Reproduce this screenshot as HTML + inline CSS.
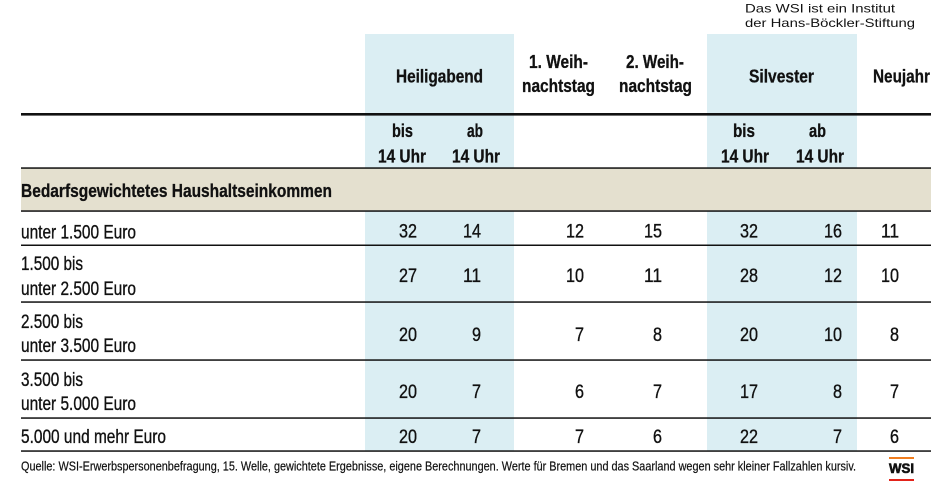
<!DOCTYPE html>
<html><head><meta charset="utf-8"><style>
html,body{margin:0;padding:0;background:#fff;}
svg{display:block;}
text{font-family:"Liberation Sans",Arial,sans-serif;fill:#111;}
.b{font-weight:bold;}
.s{stroke:#111;stroke-width:0.35;}
.sb{stroke:#111;stroke-width:0.3;}
</style></head><body>
<svg width="931" height="484" viewBox="0 0 931 484" xmlns="http://www.w3.org/2000/svg">
<rect x="0" y="0" width="931" height="484" fill="#fff"/>
<!-- blue columns -->
<rect x="365" y="34" width="149" height="417" fill="#dbeef3"/>
<rect x="707" y="34" width="150" height="417" fill="#dbeef3"/>
<!-- beige band -->
<rect x="21" y="168" width="910" height="43" fill="#e4e0cf"/>
<!-- lines -->
<rect x="21" y="113" width="910" height="2.6" fill="#111"/>
<rect x="21" y="167.3" width="910" height="1.5" fill="#111"/>
<rect x="21" y="210.3" width="910" height="1.5" fill="#111"/>
<rect x="21" y="244.5" width="910" height="1.5" fill="#111"/>
<rect x="21" y="301.3" width="910" height="1.5" fill="#111"/>
<rect x="21" y="359.3" width="910" height="1.5" fill="#111"/>
<rect x="21" y="417.3" width="910" height="1.5" fill="#111"/>
<rect x="21" y="450.3" width="910" height="1.5" fill="#111"/>

<!-- top right note -->
<text x="745" y="12.5" font-size="12" textLength="150" lengthAdjust="spacingAndGlyphs">Das WSI ist ein Institut</text>
<text x="745" y="27" font-size="12" textLength="170" lengthAdjust="spacingAndGlyphs">der Hans-Böckler-Stiftung</text>

<!-- headers -->
<g font-size="18" class="sb">
<text class="b" x="396" y="82.5" textLength="87" lengthAdjust="spacingAndGlyphs">Heiligabend</text>
<text class="b" x="529" y="68" textLength="59" lengthAdjust="spacingAndGlyphs">1. Weih-</text>
<text class="b" x="522" y="92" textLength="73" lengthAdjust="spacingAndGlyphs">nachtstag</text>
<text class="b" x="626" y="68" textLength="58" lengthAdjust="spacingAndGlyphs">2. Weih-</text>
<text class="b" x="619" y="92" textLength="73" lengthAdjust="spacingAndGlyphs">nachtstag</text>
<text class="b" x="749" y="82.5" textLength="65" lengthAdjust="spacingAndGlyphs">Silvester</text>
<text class="b" x="873" y="82.5" textLength="57" lengthAdjust="spacingAndGlyphs">Neujahr</text>

<text class="b" x="392" y="137" textLength="21" lengthAdjust="spacingAndGlyphs">bis</text>
<text class="b" x="378" y="162.3" textLength="48" lengthAdjust="spacingAndGlyphs">14 Uhr</text>
<text class="b" x="467" y="137" textLength="16" lengthAdjust="spacingAndGlyphs">ab</text>
<text class="b" x="452" y="162.3" textLength="48" lengthAdjust="spacingAndGlyphs">14 Uhr</text>
<text class="b" x="733" y="137" textLength="22" lengthAdjust="spacingAndGlyphs">bis</text>
<text class="b" x="721" y="162.3" textLength="48" lengthAdjust="spacingAndGlyphs">14 Uhr</text>
<text class="b" x="809" y="137" textLength="17" lengthAdjust="spacingAndGlyphs">ab</text>
<text class="b" x="796" y="162.3" textLength="48" lengthAdjust="spacingAndGlyphs">14 Uhr</text>

<text class="b" x="21" y="197" font-size="18.5" textLength="311" lengthAdjust="spacingAndGlyphs">Bedarfsgewichtetes Haushaltseinkommen</text>
</g>

<!-- row labels -->
<g font-size="19" class="s">
<text x="21" y="238.3" textLength="115" lengthAdjust="spacingAndGlyphs">unter 1.500 Euro</text>
<text x="21" y="270" textLength="62" lengthAdjust="spacingAndGlyphs">1.500 bis</text>
<text x="21" y="295" textLength="115" lengthAdjust="spacingAndGlyphs">unter 2.500 Euro</text>
<text x="21" y="328" textLength="62" lengthAdjust="spacingAndGlyphs">2.500 bis</text>
<text x="21" y="352" textLength="115" lengthAdjust="spacingAndGlyphs">unter 3.500 Euro</text>
<text x="21" y="386" textLength="62" lengthAdjust="spacingAndGlyphs">3.500 bis</text>
<text x="21" y="410" textLength="115" lengthAdjust="spacingAndGlyphs">unter 5.000 Euro</text>
<text x="21" y="443" textLength="145" lengthAdjust="spacingAndGlyphs">5.000 und mehr Euro</text>
</g>

<!-- numbers -->
<g font-size="19" text-anchor="end" class="s">
<!-- row 1 -->
<text x="417" y="237.5" textLength="18" lengthAdjust="spacingAndGlyphs">32</text>
<text x="481" y="237.5" textLength="18" lengthAdjust="spacingAndGlyphs">14</text>
<text x="584" y="237.5" textLength="18" lengthAdjust="spacingAndGlyphs">12</text>
<text x="662" y="237.5" textLength="18" lengthAdjust="spacingAndGlyphs">15</text>
<text x="758" y="237.5" textLength="18" lengthAdjust="spacingAndGlyphs">32</text>
<text x="842" y="237.5" textLength="18" lengthAdjust="spacingAndGlyphs">16</text>
<text x="899" y="237.5" textLength="18" lengthAdjust="spacingAndGlyphs">11</text>
<!-- row 2 -->
<text x="417" y="282" textLength="18" lengthAdjust="spacingAndGlyphs">27</text>
<text x="481" y="282" textLength="18" lengthAdjust="spacingAndGlyphs">11</text>
<text x="584" y="282" textLength="18" lengthAdjust="spacingAndGlyphs">10</text>
<text x="662" y="282" textLength="18" lengthAdjust="spacingAndGlyphs">11</text>
<text x="758" y="282" textLength="18" lengthAdjust="spacingAndGlyphs">28</text>
<text x="842" y="282" textLength="18" lengthAdjust="spacingAndGlyphs">12</text>
<text x="899" y="282" textLength="18" lengthAdjust="spacingAndGlyphs">10</text>
<!-- row 3 -->
<text x="417" y="341" textLength="18" lengthAdjust="spacingAndGlyphs">20</text>
<text x="481" y="341" textLength="9" lengthAdjust="spacingAndGlyphs">9</text>
<text x="584" y="341" textLength="9" lengthAdjust="spacingAndGlyphs">7</text>
<text x="662" y="341" textLength="9" lengthAdjust="spacingAndGlyphs">8</text>
<text x="758" y="341" textLength="18" lengthAdjust="spacingAndGlyphs">20</text>
<text x="842" y="341" textLength="18" lengthAdjust="spacingAndGlyphs">10</text>
<text x="899" y="341" textLength="9" lengthAdjust="spacingAndGlyphs">8</text>
<!-- row 4 -->
<text x="417" y="398" textLength="18" lengthAdjust="spacingAndGlyphs">20</text>
<text x="481" y="398" textLength="9" lengthAdjust="spacingAndGlyphs">7</text>
<text x="584" y="398" textLength="9" lengthAdjust="spacingAndGlyphs">6</text>
<text x="662" y="398" textLength="9" lengthAdjust="spacingAndGlyphs">7</text>
<text x="758" y="398" textLength="18" lengthAdjust="spacingAndGlyphs">17</text>
<text x="842" y="398" textLength="9" lengthAdjust="spacingAndGlyphs">8</text>
<text x="899" y="398" textLength="9" lengthAdjust="spacingAndGlyphs">7</text>
<!-- row 5 -->
<text x="417" y="443" textLength="18" lengthAdjust="spacingAndGlyphs">20</text>
<text x="481" y="443" textLength="9" lengthAdjust="spacingAndGlyphs">7</text>
<text x="584" y="443" textLength="9" lengthAdjust="spacingAndGlyphs">7</text>
<text x="662" y="443" textLength="9" lengthAdjust="spacingAndGlyphs">6</text>
<text x="758" y="443" textLength="18" lengthAdjust="spacingAndGlyphs">22</text>
<text x="842" y="443" textLength="9" lengthAdjust="spacingAndGlyphs">7</text>
<text x="899" y="443" textLength="9" lengthAdjust="spacingAndGlyphs">6</text>
</g>

<!-- footnote -->
<text x="21" y="470.3" font-size="13" class="sb" textLength="835" lengthAdjust="spacingAndGlyphs" style="stroke-width:0.2">Quelle: WSI-Erwerbspersonenbefragung, 15. Welle, gewichtete Ergebnisse, eigene Berechnungen. Werte für Bremen und das Saarland wegen sehr kleiner Fallzahlen kursiv.</text>

<!-- WSI logo -->
<rect x="889" y="457" width="25" height="2" fill="#f07d1e"/>
<text class="b" x="889" y="473" font-size="14" textLength="25" lengthAdjust="spacingAndGlyphs" style="font-weight:900;stroke:#111;stroke-width:0.6">WSI</text>
<rect x="889" y="479" width="25" height="2" fill="#e2231a"/>
</svg>
</body></html>
